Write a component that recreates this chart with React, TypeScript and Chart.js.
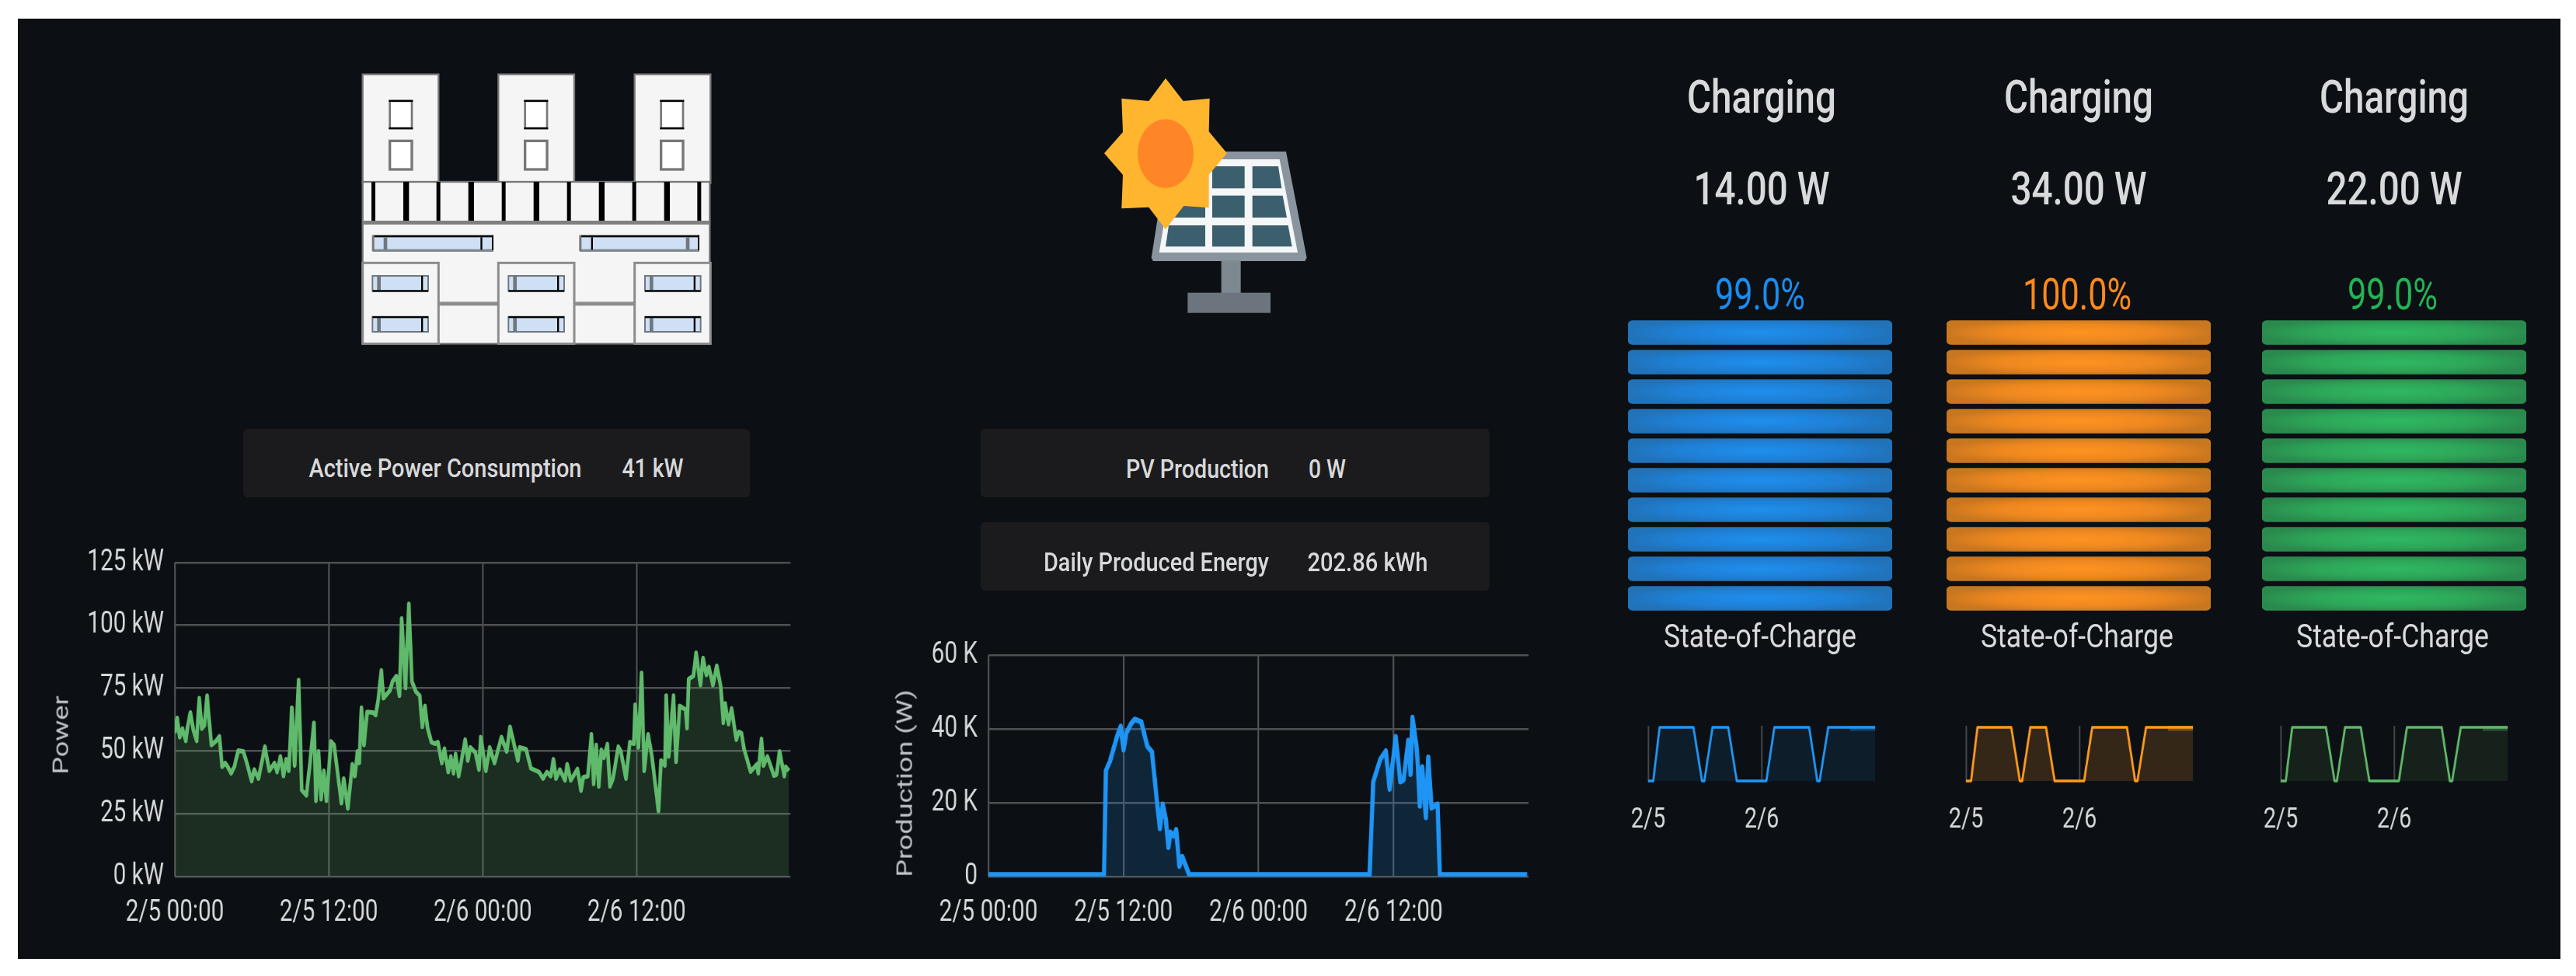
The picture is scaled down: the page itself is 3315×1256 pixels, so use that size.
import React, { useEffect, useRef } from "react";
import { Chart, registerables } from "chart.js";
Chart.register(...registerables);

// ---- data ----
const timeTickLabels = ["2/5 00:00", "2/5 12:00", "2/6 00:00", "2/6 12:00"];
const dayTickLabels = ["2/5", "2/6"];
const powerTickLabels = ["0 kW", "25 kW", "50 kW", "75 kW", "100 kW", "125 kW"];
const pvTickLabels = ["0", "20 K", "40 K", "60 K"];

const powerHours = [0,.18,.38,.59,.85,.99,1.21,1.45,1.7,1.9,2.1,2.3,2.51,2.67,2.85,3.21,3.47,3.68,3.92,4.12,4.38,4.63,4.93,5.33,5.58,5.98,6.18,6.51,7.01,7.35,7.76,7.96,8.22,8.46,8.67,8.87,9.11,9.33,9.64,9.88,10.24,10.53,10.83,10.99,11.19,11.39,11.6,11.8,12.16,12.4,12.97,13.15,13.47,13.82,14.02,14.22,14.36,14.53,14.73,14.97,15.43,15.64,15.84,16.08,16.24,16.75,16.95,17.25,17.49,17.66,17.96,18.22,18.46,18.77,19.07,19.27,19.47,19.68,19.98,20.28,20.48,20.79,20.99,21.29,21.49,21.7,21.86,22.1,22.61,22.81,23.01,23.41,23.68,23.82,24.22,24.52,24.89,25.43,25.84,26.1,26.71,26.85,27.35,27.72,28.36,28.67,28.97,29.27,29.48,29.68,29.98,30.38,30.55,30.83,31.35,31.63,31.8,32.16,32.44,32.61,32.81,33.01,33.21,33.41,33.68,33.88,34.12,34.53,34.73,35.13,35.43,35.74,35.84,36.1,36.34,36.55,36.85,37.15,37.66,37.86,38.16,38.26,38.46,38.83,39.03,39.31,39.78,39.88,40.02,40.38,40.59,40.93,41.13,41.39,41.59,41.9,42.2,42.51,42.71,42.85,43.11,43.35,43.72,43.92,44.12,44.32,44.83,45.33,45.43,45.68,45.84,46.14,46.65,46.85,47.09,47.46,47.56,47.82];
const powerKw = [57.1,63.1,55.5,58.9,54,59.6,65.3,58.1,54,71,58.9,60.2,72,62.2,52.4,54,55.8,43.7,45.2,43.7,41.1,43.7,50.1,49.8,45.7,38,42.6,39,51.7,42.1,45.2,41.6,47.8,40,46.7,42.1,67.2,44.2,78.2,34.4,32.3,45.7,61.2,30.2,49.8,30.8,42.1,30.2,53.8,52.4,29.2,39,27.1,44.7,40,49.8,45.2,67.2,52.4,65.5,65.3,64.3,70.5,82.1,71,74.1,77.7,79.8,72,102.7,75.1,108.5,77.7,73.6,72,59.6,67.9,59.1,53.5,52.9,53.5,45.2,50.9,41.6,47.8,41.1,48.8,40,54.5,46.2,51.4,49.3,42.6,55.5,42.1,51.4,45.2,55.5,49.8,59.6,46.2,51.4,50.7,43.1,41.6,39,41.6,40,46.7,39,42.6,38.3,44.7,38.3,42.8,34.2,39.5,40,56.6,36.9,52.4,35.9,50.4,47.3,52.7,35.9,39,51.7,49.8,39,53.5,52.9,68.4,51.4,81.1,42.1,56.6,47.8,26.1,46.2,44.2,72,47.8,72,45.7,67.9,66.4,59.1,78.7,79.8,89.1,76.2,87,80.3,83.4,76.2,83.9,75.6,61.2,68.9,60.7,66.9,54.5,57.6,57.1,50.9,41.8,44.7,41.1,54.8,44.2,47.8,40.2,40.6,49.8,40,43.7,42.1];

const pvHours = [0,10.29,10.46,10.83,11.45,11.78,12.03,12.28,12.7,13.03,13.61,14.15,14.56,14.98,15.27,15.52,15.8,16.02,16.22,16.5,16.72,17,17.26,17.88,33.94,34.27,34.9,35.39,35.73,36.27,36.68,36.97,37.39,37.59,37.76,38.1,38.2,38.42,38.63,38.96,39.17,39.46,40,40.2,47.97];
const pvKilowatts = [.5,.5,28.7,31.3,37.9,40.7,34.3,38.9,41.4,42.6,41.9,35.3,33.8,21.1,13,19.6,15.5,7.9,12,11,12.7,2.8,5.4,.5,.5,25.7,31.8,34,23.7,37.9,25.7,26.2,36.9,27.7,43.1,35.8,32.3,19.1,29.7,16,32.3,18.6,19.6,.5,.5];

const chargeHours = [0,1.06,2.4,9.5,11.3,11.8,13.5,16.8,18.6,24.8,26.5,33.8,35.5,36,37.8,47.67];
const chargeStateA = [0,0,100,100,0,0,100,100,0,0,100,100,0,0,100,100];
const chargeStateB = [0,0,100,100,0,0,100,100,0,0,100,100,0,0,100,100];
const chargeStateC = [0,0,100,100,0,0,100,100,0,0,100,100,0,0,100,100];
const chargeBandHours = [42.4,47.67];
const chargeBandLevels = [100,100];

const gaugeSegments = ["1","2","3","4","5","6","7","8","9","10"];
const gaugeLevelsA = [100,100,100,100,100,100,100,100,100,100];
const gaugeLevelsB = [100,100,100,100,100,100,100,100,100,100];
const gaugeLevelsC = [100,100,100,100,100,100,100,100,100,100];
const batteryStates = ["Charging", "Charging", "Charging"];
const batteryWatts = ["14.00 W", "34.00 W", "22.00 W"];
const batterySoc = ["99.0%", "100.0%", "99.0%"];

// ---- style ----
const SQ = 0.78;
const FONT = "Roboto";
const TICK_COLOR = "#d6d8db";
const GRID_H = "#4e5053";
const GRID_V = "#55575a";

function ChartBox({ left, top, width, height, sq = SQ, make }: any) {
  const ref = useRef<HTMLCanvasElement>(null);
  const w = Math.round(width / sq);
  useEffect(() => {
    const chart = new Chart(ref.current!, make(ref.current));
    return () => chart.destroy();
  }, []);
  return (
    <div style={{ position: "absolute", left, top, width: w, height, transform: `scaleX(${sq})`, transformOrigin: "0 0" }}>
      <canvas ref={ref} width={w} height={height} />
    </div>
  );
}

const noScalePadding = (s: any) => { s.paddingTop = s.paddingBottom = s.paddingLeft = s.paddingRight = 0; };

function timeChart(o: any) {
  const { L, R, T, B, plotL, plotR, plotT, plotB, xs, ys, line, fill, lineWidth, xMax, yMax, yStep, yLabels } = o;
  return () => ({
    type: "line",
    data: {
      datasets: [{
        data: xs.map((x: number, i: number) => ({ x, y: ys[i] })),
        borderColor: line, backgroundColor: fill, borderWidth: lineWidth,
        pointRadius: 0, fill: "origin", tension: 0, borderJoinStyle: "round",
      }],
    },
    options: {
      animation: false, responsive: false, devicePixelRatio: 1, parsing: false,
      layout: { autoPadding: false, padding: { top: plotT - T, right: (R - plotR) / SQ, left: 0, bottom: 0 } },
      plugins: { legend: { display: false }, tooltip: { enabled: false } },
      scales: {
        x: {
          type: "linear", min: 0, max: xMax,
          grid: { color: GRID_V, lineWidth: 2.4, drawTicks: false },
          border: { display: false },
          ticks: {
            stepSize: 12, includeBounds: false, maxRotation: 0, autoSkip: false, padding: 25,
            color: TICK_COLOR, font: { family: FONT, size: 38 },
            callback: (_: any, i: number) => timeTickLabels[i],
          },
          afterFit: (s: any) => { s.height = B - plotB; noScalePadding(s); },
        },
        y: {
          min: 0, max: yMax,
          grid: { color: GRID_H, lineWidth: 2.6, drawTicks: false },
          border: { display: false },
          ticks: {
            stepSize: yStep, padding: 18, color: TICK_COLOR, font: { family: FONT, size: 38 },
            callback: (_: any, i: number) => yLabels[i],
          },
          afterFit: (s: any) => { s.width = (plotL - L) / SQ; noScalePadding(s); },
        },
      },
    },
  });
}

function miniChart(ys: number[], line: string, band: string, fill: string, labelOffset: number) {
  return () => ({
    type: "line",
    data: {
      datasets: [
        {
          data: chargeBandHours.map((x, i) => ({ x, y: chargeBandLevels[i] })),
          borderColor: band, borderWidth: 9, pointRadius: 0, fill: false, tension: 0,
        },
        {
          data: chargeHours.map((x, i) => ({ x, y: ys[i] })),
          borderColor: line, backgroundColor: fill, borderWidth: 3.6,
          pointRadius: 0, fill: "origin", tension: 0, borderJoinStyle: "round",
        },
      ],
    },
    options: {
      animation: false, responsive: false, devicePixelRatio: 1, parsing: false,
      layout: { autoPadding: false, padding: { top: 4, right: 13 / SQ, left: labelOffset / SQ, bottom: 0 } },
      plugins: { legend: { display: false }, tooltip: { enabled: false } },
      scales: {
        x: {
          type: "linear", min: 0, max: 47.67,
          grid: { color: "#45474a", lineWidth: 2.4, drawTicks: false },
          border: { display: false },
          ticks: {
            stepSize: 24, includeBounds: false, maxRotation: 0, autoSkip: false, padding: 27,
            color: TICK_COLOR, font: { family: FONT, size: 37 },
            callback: (_: any, i: number) => dayTickLabels[i],
          },
          afterFit: (s: any) => { s.height = 73; noScalePadding(s); },
        },
        y: { display: false, min: -3, max: 103 },
      },
    },
  });
}

function gaugeChart(levels: number[], bright: string, mid: string, dull: string) {
  return (canvas: HTMLCanvasElement) => {
    const off = document.createElement("canvas");
    off.width = canvas.width; off.height = canvas.height;
    const c = off.getContext("2d")!;
    const band = canvas.height / levels.length;
    const cx = canvas.width / 2;
    levels.forEach((_, i) => {
      c.save();
      c.beginPath();
      c.rect(0, i * band, canvas.width, band);
      c.clip();
      c.translate(cx, (i + 0.5) * band);
      c.scale(1, 0.1);
      const g = c.createRadialGradient(0, 0, 0, 0, 0, cx * 1.05);
      g.addColorStop(0, bright);
      g.addColorStop(0.6, mid);
      g.addColorStop(1, dull);
      c.fillStyle = g;
      c.fillRect(-cx, -band * 6, canvas.width, band * 12);
      c.restore();
    });
    const pattern = canvas.getContext("2d")!.createPattern(off, "no-repeat");
    return {
      type: "bar",
      data: { labels: gaugeSegments, datasets: [{ data: levels, backgroundColor: pattern, barThickness: 31, borderRadius: 6, borderSkipped: false }] },
      options: {
        animation: false, responsive: false, devicePixelRatio: 1, indexAxis: "y",
        layout: { autoPadding: false, padding: 0 },
        plugins: { legend: { display: false }, tooltip: { enabled: false } },
        scales: { x: { display: false, min: 0, max: 100 }, y: { display: false } },
      },
    };
  };
}

const measurer = document.createElement("canvas").getContext("2d")!;
function Txt({ cx, cy, w, size, weight = 400, color = "#d8d9da", text }: any) {
  measurer.font = `${weight} ${size}px ${FONT}`;
  const sx = w / measurer.measureText(text).width;
  return (
    <div style={{
      position: "absolute", left: cx, top: cy, whiteSpace: "nowrap", lineHeight: 1,
      fontFamily: FONT, fontSize: size, fontWeight: weight, color,
      transform: `translate(-50%,-50%) scaleX(${sx})`,
    }}>{text}</div>
  );
}

function AxisTitle({ cx, cy, size, text }: any) {
  return (
    <div style={{
      position: "absolute", left: cx, top: cy, whiteSpace: "nowrap", lineHeight: 1,
      fontFamily: FONT, fontSize: size, color: "#c0c3c7",
      transform: `translate(-50%,-50%) rotate(-90deg) scaleY(${SQ})`,
    }}>{text}</div>
  );
}

function Card({ left, top, width, height }: any) {
  return <div style={{ position: "absolute", left, top, width, height, background: "#1b1b1e", borderRadius: 6 }} />;
}

function Building() {
  const bars = [182, 308, 433, 559, 685, 811, 937, 1063, 1189, 1315, 1440];
  const towers = [140, 664, 1190];
  const long = [
    { x: 180, w: 465, g: 228, b: 598 },
    { x: 980, w: 460, g: 1395, b: 1025 },
  ];
  return (
    <svg style={{ position: "absolute", left: 420, top: 60 }} width={520} height={420} viewBox="0 0 1560 1260">
      {towers.map((x) => <rect key={x} x={x} y={107} width={293} height={420} fill="#f5f5f5" stroke="#777" strokeWidth={7} />)}
      <rect x={140} y={522} width={1340} height={625} fill="#f5f5f5" stroke="#777" strokeWidth={7} />
      {bars.map((x, i) => <rect key={x} x={x - (i % 2 ? 11 : 8)} y={522} width={i % 2 ? 22 : 15} height={155} fill="#000" />)}
      <rect x={140} y={672} width={1340} height={15} fill="#808080" />
      {towers.map((x, i) => {
        const wx = [245, 767, 1292][i];
        return (
          <g key={x}>
            <rect x={wx} y={210} width={85} height={105} fill="#fff" stroke="#777" strokeWidth={8} />
            <rect x={wx - 4} y={206} width={93} height={7} fill="#000" />
            <rect x={wx - 4} y={312} width={93} height={7} fill="#000" />
            <rect x={wx} y={364} width={85} height={110} fill="#fff" stroke="#777" strokeWidth={10} />
            <rect x={x} y={835} width={293} height={312} fill="#f5f5f5" stroke="#8c8c8c" strokeWidth={9} />
          </g>
        );
      })}
      {long.map((l) => (
        <g key={l.x}>
          <rect x={l.x} y={732} width={l.w} height={55} fill="#cfe0f5" />
          <rect x={l.x} y={728} width={l.w} height={8} fill="#000" />
          <rect x={l.x} y={782} width={l.w} height={10} fill="#808890" />
          <rect x={l.x - 4} y={728} width={9} height={62} fill="#777" />
          <rect x={l.x + l.w - 6} y={728} width={6} height={58} fill="#000" />
          <rect x={l.g - 7} y={736} width={14} height={48} fill="#6f7880" />
          <rect x={l.b - 3} y={736} width={7} height={48} fill="#000" />
        </g>
      ))}
      {[178, 703, 1230].flatMap((x) => [885, 1043].map((y) => (
        <g key={`${x}-${y}`}>
          <rect x={x} y={y} width={215} height={58} fill="#cfe0f5" stroke="#6f7880" strokeWidth={6} />
          <rect x={x + 18} y={y} width={14} height={58} fill="#6f7880" />
          <rect x={x + 188} y={y} width={7} height={58} fill="#000" />
          <rect x={x} y={y === 885 ? y + 55 : y - 2} width={215} height={7} fill="#000" />
        </g>
      )))}
      <rect x={435} y={985} width={230} height={15} fill="#8c8c8c" />
      <rect x={960} y={985} width={230} height={15} fill="#8c8c8c" />
    </svg>
  );
}

function SolarIcon() {
  const cell = "#3c5f6e";
  return (
    <svg style={{ position: "absolute", left: 1380, top: 80 }} width={340} height={340} viewBox="0 0 1020 1020">
      <polygon points="370,345 825,345 905,755 898,768 312,768 305,755" fill="#8a949e" />
      <polygon points="395,375 800,375 870,735 335,735" fill="#f4f6f7" />
      <polygon points="405,402 513,402 513,487 392,487" fill={cell} />
      <rect x={540} y={402} width={125} height={85} fill={cell} />
      <polygon points="695,402 795,402 808,487 695,487" fill={cell} />
      <polygon points="388,515 513,515 513,600 376,600" fill={cell} />
      <rect x={540} y={515} width={125} height={85} fill={cell} />
      <polygon points="695,515 812,515 828,600 695,600" fill={cell} />
      <polygon points="372,630 513,630 513,712 360,712" fill={cell} />
      <rect x={540} y={630} width={125} height={82} fill={cell} />
      <polygon points="695,630 833,630 848,712 695,712" fill={cell} />
      <rect x={575} y={765} width={75} height={128} fill="#7e8890" />
      <rect x={445} y={890} width={320} height={78} fill="#6c757d" />
      <polygon points="360,62 428,150 530,140 527,268 597,352 527,435 527,562 430,555 360,645 295,560 190,565 195,435 123,352 195,270 190,140 295,150" fill="#ffb52e" />
      <ellipse cx={360} cy={353} rx={108} ry={133} fill="#ff8626" />
    </svg>
  );
}

const gauges = [
  { left: 2095, cx: 2265, color: "#1a8cf0", levels: gaugeLevelsA, bright: "#1e8fee", mid: "#1f80d6", dull: "#2172b8", tx: 2267, socW: 116 },
  { left: 2505, cx: 2673, color: "#ff8a1c", levels: gaugeLevelsB, bright: "#ff9320", mid: "#ec8720", dull: "#c8761f", tx: 2675, socW: 140 },
  { left: 2911, cx: 3079, color: "#22b455", levels: gaugeLevelsC, bright: "#2fb962", mid: "#2da558", dull: "#2a8a4e", tx: 3081, socW: 116 },
];

const minis = [
  { L: 2051, ys: chargeStateA, line: "#2196f3", band: "rgba(33,150,243,0.35)", fill: "rgba(33,150,243,0.1)" },
  { L: 2460, ys: chargeStateB, line: "#ff9a1f", band: "rgba(255,154,31,0.35)", fill: "rgba(255,152,48,0.17)" },
  { L: 2865, ys: chargeStateC, line: "#5fb868", band: "rgba(95,184,104,0.35)", fill: "rgba(115,191,105,0.1)" },
];

export default function App() {
  useEffect(() => {
    document.body.style.margin = "0";
    document.body.style.background = "#fff";
  }, []);
  return (
    <div style={{ position: "fixed", left: 0, top: 0, width: 3315, height: 1256, background: "#fff", overflow: "hidden" }}>
      <div style={{ position: "absolute", left: 23, top: 24, width: 3272, height: 1210, background: "#0c1014" }} />
      <div style={{ position: "absolute", left: 0, top: 0, width: 3315, height: 1256, filter: "blur(0.6px)" }}>
        <Building />
        <SolarIcon />

        <Card left={313} top={552} width={652} height={88} />
        <Txt cx={573} cy={602} w={351} size={33} weight={500} text="Active Power Consumption" />
        <Txt cx={840} cy={602} w={79} size={33} weight={500} text="41 kW" />

        <Card left={1262} top={552} width={655} height={88} />
        <Txt cx={1541} cy={603} w={184} size={33} weight={500} text="PV Production" />
        <Txt cx={1708} cy={603} w={48} size={33} weight={500} text="0 W" />
        <Card left={1262} top={672} width={655} height={88} />
        <Txt cx={1488} cy={723} w={290} size={33} weight={500} text="Daily Produced Energy" />
        <Txt cx={1760} cy={723} w={155} size={33} weight={500} text="202.86 kWh" />

        <ChartBox left={30} top={694} width={1027} height={506} make={timeChart({
          L: 30, R: 1057, T: 694, B: 1200, plotL: 225, plotR: 1017, plotT: 724, plotB: 1128,
          xs: powerHours, ys: powerKw, line: "#60ba6c", fill: "rgba(115,191,105,0.17)", lineWidth: 6,
          xMax: 47.94, yMax: 125, yStep: 25, yLabels: powerTickLabels,
        })} />
        <AxisTitle cx={78} cy={946} size={36} text="Power" />

        <ChartBox left={1130} top={813} width={872} height={387} make={timeChart({
          L: 1130, R: 2002, T: 813, B: 1200, plotL: 1272, plotR: 1967, plotT: 843, plotB: 1128,
          xs: pvHours, ys: pvKilowatts, line: "#1e95f5", fill: "rgba(33,150,243,0.17)", lineWidth: 7,
          xMax: 48.1, yMax: 60, yStep: 20, yLabels: pvTickLabels,
        })} />
        <AxisTitle cx={1164} cy={1008} size={36} text="Production (W)" />

        {gauges.map((g, i) => (
          <React.Fragment key={g.left}>
            <Txt cx={g.tx} cy={125} w={192} size={60} weight={500} text={batteryStates[i]} />
            <Txt cx={g.tx} cy={243} w={175} size={60} weight={500} text={batteryWatts[i]} />
            <Txt cx={g.cx} cy={379} w={g.socW} size={56} weight={400} color={g.color} text={batterySoc[i]} />
            <ChartBox left={g.left} top={409} width={340} height={380} sq={1} make={gaugeChart(g.levels, g.bright, g.mid, g.dull)} />
            <Txt cx={g.cx} cy={819} w={248} size={42} text="State-of-Charge" />
          </React.Fragment>
        ))}

        {minis.map((m) => (
          <ChartBox key={m.L} left={m.L} top={930} width={375} height={150} make={miniChart(m.ys, m.line, m.band, m.fill, 70)} />
        ))}
      </div>
    </div>
  );
}
